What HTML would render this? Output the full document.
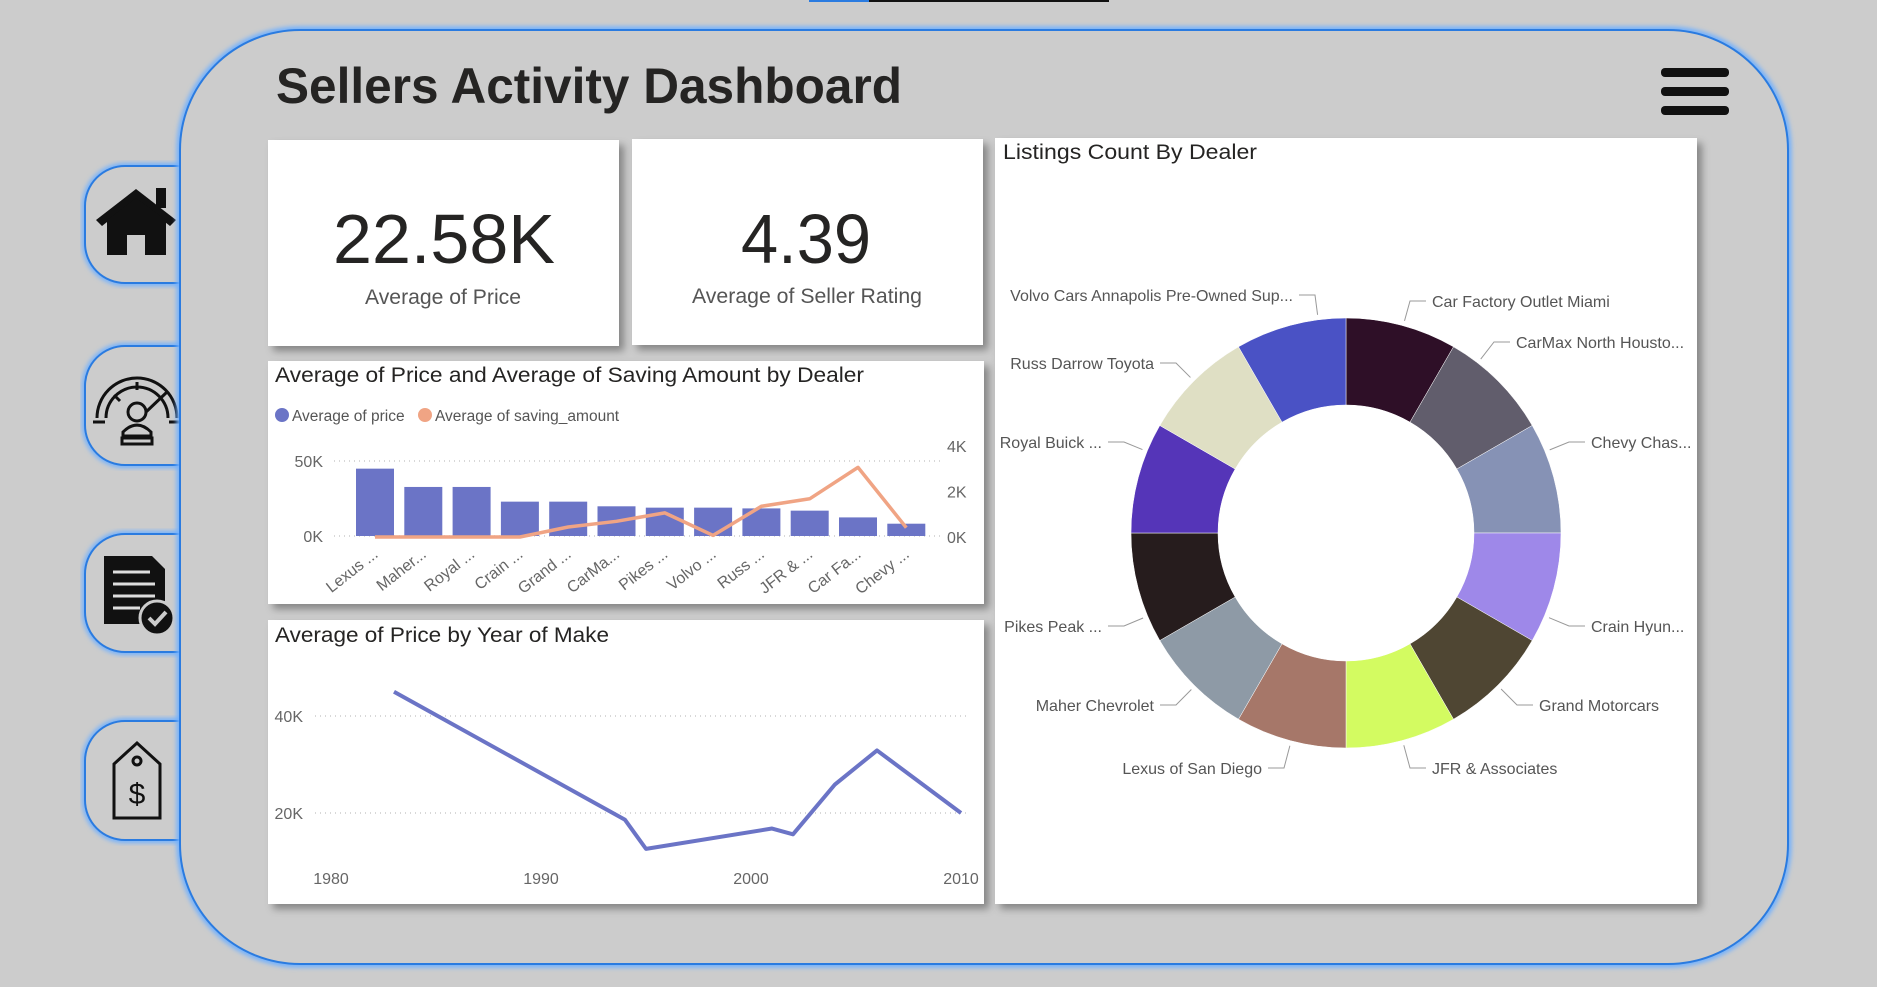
<!DOCTYPE html>
<html><head><meta charset="utf-8"><style>
html,body{margin:0;padding:0;background:#cccccc;}
svg{display:block;font-family:"Liberation Sans",sans-serif;}
</style></head><body>
<svg id="root" width="1877" height="987" viewBox="0 0 1877 987">
<defs>
<filter id="glow" x="-5%" y="-5%" width="110%" height="110%"><feGaussianBlur stdDeviation="2.5"/></filter>
<filter id="shadow" x="-5%" y="-5%" width="115%" height="115%"><feDropShadow dx="5" dy="5" stdDeviation="4" flood-color="#000" flood-opacity="0.35"/></filter>
</defs>
<rect width="1877" height="987" fill="#cccccc"/>
<rect x="809" y="0" width="60" height="2" fill="#2a7be0"/>
<rect x="869" y="0" width="240" height="2" fill="#111"/>

<g fill="#cccccc" stroke="#2a7be0" stroke-width="2">
<path d="M182 166 H125 A40 40 0 0 0 85 206 V243 A40 40 0 0 0 125 283 H182" stroke="#6fb0ff" stroke-width="6" filter="url(#glow)" fill="none"/>
<path d="M182 166 H125 A40 40 0 0 0 85 206 V243 A40 40 0 0 0 125 283 H182"/>
<path d="M182 346 H125 A40 40 0 0 0 85 386 V425 A40 40 0 0 0 125 465 H182" stroke="#6fb0ff" stroke-width="6" filter="url(#glow)" fill="none"/>
<path d="M182 346 H125 A40 40 0 0 0 85 386 V425 A40 40 0 0 0 125 465 H182"/>
<path d="M182 534 H125 A40 40 0 0 0 85 574 V612 A40 40 0 0 0 125 652 H182" stroke="#6fb0ff" stroke-width="6" filter="url(#glow)" fill="none"/>
<path d="M182 534 H125 A40 40 0 0 0 85 574 V612 A40 40 0 0 0 125 652 H182"/>
<path d="M182 721 H125 A40 40 0 0 0 85 761 V800 A40 40 0 0 0 125 840 H182" stroke="#6fb0ff" stroke-width="6" filter="url(#glow)" fill="none"/>
<path d="M182 721 H125 A40 40 0 0 0 85 761 V800 A40 40 0 0 0 125 840 H182"/>
</g>
<g fill="#111">
<polygon points="96,220 136,189 176,220 170,226 136,199 102,226"/>
<rect x="156" y="188" width="10" height="20"/>
<path d="M107 220 L136 198 L166 220 V255 H145 V235 H127 V255 H107 Z"/>
</g>
<g fill="none" stroke="#111" stroke-width="3">
<path d="M97 418 A40 40 0 0 1 177 418"/><path d="M106 418 A31 31 0 0 1 168 418"/>
<line x1="93" y1="422" x2="105" y2="422"/><line x1="169" y1="422" x2="181" y2="422"/>
<line x1="114" y1="395" x2="120" y2="401"/><line x1="137" y1="382" x2="137" y2="390"/>
<line x1="146" y1="412" x2="167" y2="392"/>
<circle cx="137" cy="412" r="9"/><path d="M123 432 Q137 418 151 432 V436 H123 Z"/>
<rect x="122" y="438" width="30" height="6"/>
</g>
<g>
<path d="M104 556 H152 L165 569 V624 H104 Z" fill="#111"/>
<g stroke="#ddd" stroke-width="3"><line x1="113" y1="572" x2="150" y2="572"/><line x1="113" y1="584" x2="155" y2="584"/><line x1="113" y1="596" x2="155" y2="596"/><line x1="113" y1="608" x2="140" y2="608"/></g>
<circle cx="157" cy="618" r="17" fill="#111" stroke="#ccc" stroke-width="3"/>
<polyline points="149,618 155,624 166,612" fill="none" stroke="#ccc" stroke-width="4"/>
</g>
<g fill="none" stroke="#111" stroke-width="3">
<path d="M114 818 V764 L137 743 L160 764 V818 Z"/><circle cx="137" cy="761" r="4"/>
<text x="137" y="804" font-size="30" fill="#111" stroke="none" text-anchor="middle">$</text>
</g>

<path d="M300 30 H1668 A120 120 0 0 1 1788 150 V844 A120 120 0 0 1 1668 964 H300 A120 120 0 0 1 180 844 V150 A120 120 0 0 1 300 30 Z" fill="none" stroke="#6fb0ff" stroke-width="7" filter="url(#glow)"/>
<path d="M300 30 H1668 A120 120 0 0 1 1788 150 V844 A120 120 0 0 1 1668 964 H300 A120 120 0 0 1 180 844 V150 A120 120 0 0 1 300 30 Z" fill="#cccccc" stroke="#2a7be0" stroke-width="2"/>

<text x="276" y="103" font-size="50" font-weight="bold" fill="#252423" textLength="626" lengthAdjust="spacingAndGlyphs">Sellers Activity Dashboard</text>
<g fill="#111">
<rect x="1661" y="68" width="68" height="9" rx="4"/><rect x="1661" y="87" width="68" height="9" rx="4"/><rect x="1661" y="106" width="68" height="9" rx="4"/>
</g>

<rect x="268" y="140" width="351" height="206" fill="#fff" filter="url(#shadow)"/>
<text x="444" y="263" font-size="70" fill="#252423" text-anchor="middle" textLength="222" lengthAdjust="spacingAndGlyphs">22.58K</text>
<text x="443" y="304" font-size="21" fill="#555" text-anchor="middle" textLength="156" lengthAdjust="spacingAndGlyphs">Average of Price</text>
<rect x="632" y="139" width="351" height="206" fill="#fff" filter="url(#shadow)"/>
<text x="806" y="263" font-size="70" fill="#252423" text-anchor="middle" textLength="130" lengthAdjust="spacingAndGlyphs">4.39</text>
<text x="807" y="303" font-size="21" fill="#555" text-anchor="middle" textLength="230" lengthAdjust="spacingAndGlyphs">Average of Seller Rating</text>

<rect x="268" y="361" width="716" height="243" fill="#fff" filter="url(#shadow)"/>
<text x="275" y="382" font-size="21" fill="#252423" textLength="589" lengthAdjust="spacingAndGlyphs">Average of Price and Average of Saving Amount by Dealer</text>
<circle cx="282" cy="415" r="7" fill="#6b74c6"/>
<text x="292" y="421" font-size="15.5" fill="#555">Average of price</text>
<circle cx="425" cy="415" r="7" fill="#f0a484"/>
<text x="435" y="421" font-size="15.5" fill="#555">Average of saving_amount</text>
<g id="barchart"></g>

<rect x="268" y="620" width="716" height="284" fill="#fff" filter="url(#shadow)"/>
<text x="275" y="642" font-size="21" fill="#252423" textLength="334" lengthAdjust="spacingAndGlyphs">Average of Price by Year of Make</text>
<g id="linechart"></g>

<rect x="995" y="138" width="702" height="766" fill="#fff" filter="url(#shadow)"/>
<text x="1003" y="159" font-size="21" fill="#252423" textLength="254" lengthAdjust="spacingAndGlyphs">Listings Count By Dealer</text>
<g id="donut"></g>
</svg>
<script>
const NS="http://www.w3.org/2000/svg";
function mk(tag,attrs,parent){const e=document.createElementNS(NS,tag);for(const k in attrs)e.setAttribute(k,attrs[k]);parent.appendChild(e);return e;}

const dealerShort=["Lexus ...","Maher...","Royal ...","Crain ...","Grand ...","CarMa...","Pikes ...","Volvo ...","Russ ...","JFR & ...","Car Fa...","Chevy ..."];
const avgPrice=[44900,32700,32700,22900,22900,19800,18900,18900,18400,16900,12400,8200];
const avgSaving=[0,0,0,0,440,690,1060,70,1350,1680,3060,410];
const leftTicks=[0,50000];
const leftTickLabels=["0K","50K"];
const rightTicks=[0,2000,4000];
const rightTickLabels=["0K","2K","4K"];

const years=[1983,1994,1995,2001,2002,2004,2006,2010];
const yearPrice=[45000,18600,12600,16800,15600,25900,32900,20000];
const yTicks=[20000,40000];
const yTickLabels=["20K","40K"];
const xTicks=[1980,1990,2000,2010];
const xTickLabels=["1980","1990","2000","2010"];

const dealers=["Car Factory Outlet Miami","CarMax North Housto...","Chevy Chas...","Crain Hyun...","Grand Motorcars","JFR & Associates","Lexus of San Diego","Maher Chevrolet","Pikes Peak ...","Royal Buick ...","Russ Darrow Toyota","Volvo Cars Annapolis Pre-Owned Sup..."];
const listingCounts=[1,1,1,1,1,1,1,1,1,1,1,1];
const sliceColors=["#2e0f27","#615d6c","#8692b5","#9e88e9","#4f4633","#d3fb61","#a67769","#8e9aa6","#261c1d","#5535b8","#dfdfc4","#4a52c5"];

(function(){
 const g=document.getElementById('barchart');
 const yL=v=>536-v/50000*75, yR=v=>537-v/4000*91, xC=i=>375+i*48.3;
 leftTicks.forEach((t,i)=>{
  const l=mk('line',{x1:334,x2:942,y1:yL(t),y2:yL(t),stroke:'#ccc','stroke-dasharray':'1 4','stroke-width':1.5},g);
  
  
  const tx=mk('text',{x:323,y:yL(t)+6,'font-size':16,fill:'#666','text-anchor':'end'},g);
  tx.textContent=leftTickLabels[i];
  
  
 });
 rightTicks.forEach((t,i)=>{
  const tx=mk('text',{x:947,y:yR(t)+6,'font-size':16,fill:'#666'},g);
  tx.textContent=rightTickLabels[i];
  
  
 });
 avgPrice.forEach((v,i)=>{
  const r=mk('rect',{x:xC(i)-19,y:yL(v),width:38,height:536-yL(v),fill:'#6b74c6'},g);
  
  
  const tx=mk('text',{x:xC(i)+4,y:556,'font-size':16,fill:'#666','text-anchor':'end',transform:`rotate(-38 ${xC(i)+4} 556)`},g);
  tx.textContent=dealerShort[i];
  
  
 });
 const p=mk('polyline',{points:avgSaving.map((v,i)=>xC(i)+','+yR(v)).join(' '),fill:'none',stroke:'#f0a484','stroke-width':3.5,'stroke-linejoin':'round'},g);
 
 
})();

(function(){
 const g=document.getElementById('linechart');
 const x=yr=>331+(yr-1980)*21, y=v=>813-(v-20000)/20000*97;
 yTicks.forEach((t,i)=>{
  const l=mk('line',{x1:315,x2:970,y1:y(t),y2:y(t),stroke:'#ccc','stroke-dasharray':'1 4','stroke-width':1.5},g);
  
  
  const tx=mk('text',{x:303,y:y(t)+6,'font-size':16,fill:'#666','text-anchor':'end'},g);
  tx.textContent=yTickLabels[i];
  
  
 });
 xTicks.forEach((t,i)=>{
  const tx=mk('text',{x:x(t),y:884,'font-size':16,fill:'#666','text-anchor':'middle'},g);
  tx.textContent=xTickLabels[i];
  
  
 });
 const p=mk('polyline',{points:years.map((yr,i)=>x(yr)+','+y(yearPrice[i])).join(' '),fill:'none',stroke:'#6b74c6','stroke-width':4,'stroke-linejoin':'round'},g);
 
 
})();

/* label elbow layout (pixel layout, not data) */
const elbowLayout=[[1410,301],[1494,342],[1569,442],[1569,626],[1517,705],[1410,768],[1284,768],[1176,705],[1124,626],[1124,442],[1176,363],[1315,295]];
(function(){
 const g=document.getElementById('donut');
 const cx=1346,cy=533,R=215,r=128;
 const total=listingCounts.reduce((a,b)=>a+b,0);
 let a0=0;
 listingCounts.forEach((c,i)=>{
  const a1=a0+c/total*Math.PI*2;
  const pt=(rad,a)=>[cx+rad*Math.sin(a),cy-rad*Math.cos(a)];
  const [x0,y0]=pt(R,a0),[x1,y1]=pt(R,a1),[x2,y2]=pt(r,a1),[x3,y3]=pt(r,a0);
  const lg=(a1-a0)>Math.PI?1:0;
  const s=mk('path',{d:`M${x0} ${y0} A${R} ${R} 0 ${lg} 1 ${x1} ${y1} L${x2} ${y2} A${r} ${r} 0 ${lg} 0 ${x3} ${y3} Z`,fill:sliceColors[i],stroke:'#fff','stroke-width':0.5},g);
  
  
  const am=(a0+a1)/2;
  const e=elbowLayout[i%elbowLayout.length];
  const dx=e[0]-cx, dy=e[1]-cy, dl=Math.hypot(dx,dy);
  const lx0=cx+dx/dl*(R+5), ly0=cy+dy/dl*(R+5);
  const right=Math.sin(am)>=0;
  const lx2=e[0]+(right?16:-16);
  const ln=mk('polyline',{points:`${lx0},${ly0} ${e[0]},${e[1]} ${lx2},${e[1]}`,fill:'none',stroke:'#999','stroke-width':1},g);
  
  
  const tx=mk('text',{x:lx2+(right?6:-6),y:e[1]+6,'font-size':16,fill:'#555','text-anchor':right?'start':'end'},g);
  tx.textContent=dealers[i];
  
  
  a0=a1;
 });
})();
</script>
</body></html>
